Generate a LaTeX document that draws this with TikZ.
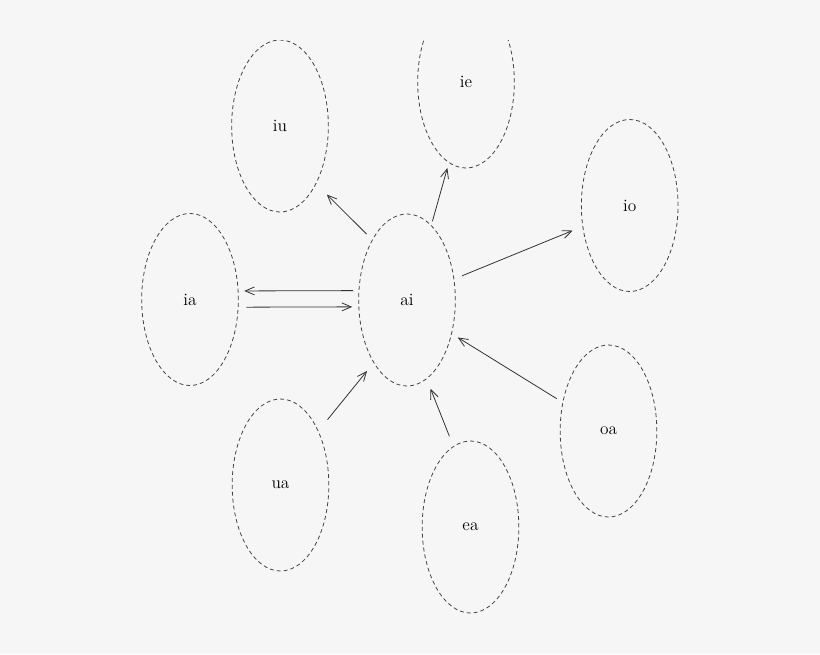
\documentclass[tikz,border=0pt]{standalone}
\usepackage{tikz}
\usetikzlibrary{arrows.meta}
\usetikzlibrary{shapes.geometric}
\definecolor{bggray}{HTML}{F6F6F6}
\definecolor{edgegray}{HTML}{444444}

\begin{document}
\begin{tikzpicture}[x=0.75pt,y=-0.75pt,>={Straight Barb[length=7pt,width=6pt]},
	vowel/.style={ellipse,draw=edgegray,dash pattern=on 3pt off 2.2pt,line width=0.6pt,
		minimum width=72.5pt,minimum height=129pt,inner sep=0pt,font=\fontsize{13}{15}\selectfont},
	link/.style={->,draw=black!80,line width=0.6pt}]
	
	% Background and page size
	\fill[bggray] (0,0) rectangle (820,654);
	\useasboundingbox (0,0) rectangle (820,654);
	
	\begin{scope}
	\clip (0,40) rectangle (820,654);
	
	% Draw the vowel pairs
	\node[vowel] (ai) at (407,300) {ai};
	\node[vowel] (ia) at (190,299.5) {ia};
	\node[vowel] (iu) at (280,126) {iu};
	\node[vowel] (ie) at (466,82) {ie};
	\node[vowel] (io) at (629.7,205.5) {io};
	\node[vowel] (oa) at (608.5,431) {oa};
	\node[vowel] (ea) at (470.5,527) {ea};
	\node[vowel] (ua) at (280.5,485) {ua};
	
	% Draw the links out of ai
	\draw[link,shorten <=5.9pt,shorten >=11.3pt] (ai.120.9) -- (iu.302.7);
	\draw[link,shorten <=3pt,shorten >=4pt] (ai.72.4) -- (ie.258.5);
	\draw[link,shorten <=6.2pt,shorten >=7.9pt] (ai.24.9) -- (io.204.7);
	\draw[link,shorten <=4pt,shorten >=4.3pt] (ai.169.5) -- (ia.10);
	
	% Draw the links into ai
	\draw[link,shorten <=5.8pt,shorten >=4.7pt] (ia.351.2) -- (ai.188.2);
	\draw[link,shorten <=10.8pt,shorten >=7.8pt] (ua.55.9) -- (ai.242.1);
	\draw[link,shorten <=8pt,shorten >=7.8pt] (ea.102.5) -- (ai.284.6);
	\draw[link,shorten <=5.1pt,shorten >=5.2pt] (oa.148.2) -- (ai.323.6);
	\end{scope}

\end{tikzpicture}
\end{document}
